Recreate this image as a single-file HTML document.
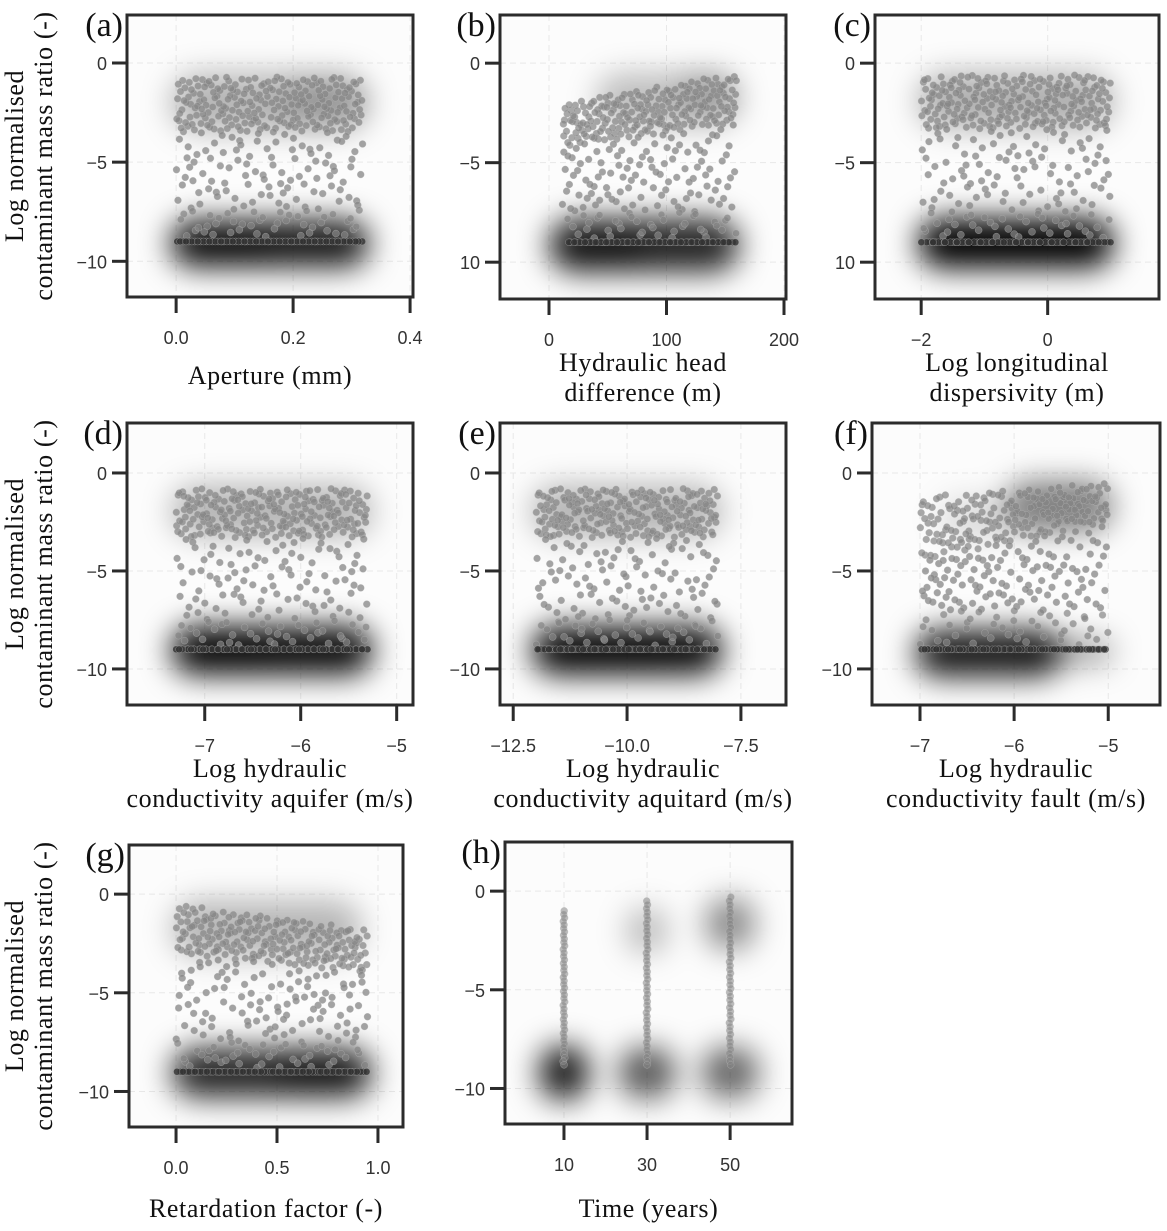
<!DOCTYPE html>
<html><head><meta charset="utf-8"><style>
html,body{margin:0;padding:0;background:#fff;}
svg text{font-family:"Liberation Serif",serif;fill:#111;}
.tk{font-family:"Liberation Sans",sans-serif;font-size:18px;fill:#333;}
.ttl{font-size:26px;letter-spacing:0.6px;}
</style></head><body>
<svg id="fig" xmlns="http://www.w3.org/2000/svg" width="1167" height="1226" viewBox="0 0 1167 1226">
<defs>
<filter id="blur" x="-50%" y="-50%" width="200%" height="200%"><feGaussianBlur stdDeviation="15"/></filter>
</defs>
</svg>
<script>
// ---- data (per panel) ----  group: [x0,x1,yTopAtX0,yBotAtX0,yTopAtX1,yBotAtX1,count,opacity,dark]
const panelA_xTicks=[0,0.2,0.4]; const panelA_xLabels=["0.0","0.2","0.4"];
const panelA_blobs=[[-0.01,0.33,-7.9,-10.3,0.9],[0,0.16,-8.5,-9.9,0.5],[-0.01,0.33,-0.5,-3.5,0.28],[0.18,0.32,-1,-2.8,0.2]];
const panelA_groups=[[0,0.32,-0.7,-3.5,-0.7,-3.5,230,0.45,0],[0,0.32,-3.5,-7.4,-3.5,-7.4,100,0.5,0],[0,0.32,-7.4,-8.8,-7.4,-8.8,45,0.45,0],[0,0.32,-9,-9,-9,-9,70,0.55,1]];

const panelB_xTicks=[0,100,200]; const panelB_xLabels=["0","100","200"];
const panelB_blobs=[[0,162,-7.8,-10.5,0.85],[0,80,-8.4,-10.1,0.5],[40,162,-0.5,-3.2,0.25],[110,160,-0.5,-2.5,0.2]];
const panelB_groups=[[12,160,-2,-4.2,-0.5,-3,220,0.45,0],[10,160,-4.2,-7.5,-3,-7.5,110,0.5,0],[15,160,-7.5,-8.8,-7.5,-8.8,40,0.45,0],[15,160,-9,-9,-9,-9,70,0.55,1]];

const panelC_xTicks=[-2,0]; const panelC_xLabels=["−2","0"];
const panelC_blobs=[[-2.05,1.05,-7.8,-10.3,1],[-1.6,0.6,-8.5,-9.8,0.5],[-2.05,1.05,-0.5,-3.3,0.3]];
const panelC_groups=[[-2,1,-0.6,-3.3,-0.6,-3.3,240,0.45,0],[-2,1,-3.3,-7.5,-3.3,-7.5,100,0.5,0],[-2,1,-7.5,-8.8,-7.5,-8.8,40,0.45,0],[-2,1,-9,-9,-9,-9,70,0.55,1]];

const panelD_xTicks=[-7,-6,-5]; const panelD_xLabels=["−7","−6","−5"];
const panelD_blobs=[[-7.35,-5.25,-7.8,-10.3,0.95],[-7.2,-6.3,-8.5,-9.8,0.45],[-7.35,-5.25,-0.6,-3.3,0.28]];
const panelD_groups=[[-7.3,-5.3,-0.8,-3.3,-0.8,-3.3,230,0.45,0],[-7.3,-5.3,-3.3,-7.5,-3.3,-7.5,100,0.5,0],[-7.3,-5.3,-7.5,-8.8,-7.5,-8.8,40,0.45,0],[-7.3,-5.3,-9,-9,-9,-9,70,0.55,1]];

const panelE_xTicks=[-12.5,-10,-7.5]; const panelE_xLabels=["−12.5","−10.0","−7.5"];
const panelE_blobs=[[-12.1,-7.9,-7.8,-10.3,0.95],[-11.5,-9,-8.5,-9.8,0.45],[-12.1,-7.9,-0.6,-3.3,0.28]];
const panelE_groups=[[-12,-8,-0.8,-3.3,-0.8,-3.3,230,0.45,0],[-12,-8,-3.3,-7.5,-3.3,-7.5,100,0.5,0],[-12,-8,-7.5,-8.8,-7.5,-8.8,40,0.45,0],[-12,-8,-9,-9,-9,-9,70,0.55,1]];

const panelF_xTicks=[-7,-6,-5]; const panelF_xLabels=["−7","−6","−5"];
const panelF_blobs=[[-7.05,-5.5,-8,-10.4,0.9],[-5.9,-4.95,-8.4,-9.8,0.35],[-6.1,-4.95,-0.4,-3,0.5],[-6.8,-6,-1.2,-3.5,0.12]];
const panelF_groups=[[-7,-5,-1.2,-4.5,-0.5,-2.5,200,0.45,0],[-7,-5,-4.5,-7,-2.5,-7,120,0.5,0],[-7,-5,-7,-8.8,-7,-8.8,45,0.45,0],[-7,-5,-9,-9,-9,-9,70,0.5,1]];

const panelG_xTicks=[0,0.5,1.0]; const panelG_xLabels=["0.0","0.5","1.0"];
const panelG_blobs=[[-0.02,0.97,-7.8,-10.3,0.85],[0.5,0.95,-8.3,-9.9,0.45],[-0.02,0.92,-0.3,-3.2,0.28]];
const panelG_groups=[[0,0.95,-0.5,-3,-1.8,-4,220,0.45,0],[0,0.95,-3,-7.5,-4,-7.5,110,0.5,0],[0,0.95,-7.5,-8.8,-7.5,-8.8,45,0.45,0],[0,0.95,-9,-9,-9,-9,70,0.55,1]];

const panelH_xTicks=[10,30,50]; const panelH_xLabels=["10","30","50"];
const panelH_blobs=[[4,16,-7.8,-10.6,0.9],[23,37,-7.9,-10.5,0.65],[43,57,-7.9,-10.5,0.6],[25,35,-0.8,-3.2,0.25],[44,56,-0.3,-3,0.45]];
const panelH_groups=[[9.8,10.2,-1,-8.8,9.8,10.2,45,0.3,0],[29.8,30.2,-0.5,-8.8,29.8,30.2,45,0.3,0],[49.8,50.2,-0.3,-8.8,49.8,50.2,45,0.3,0]];

const yTicks=[0,-5,-10];
const yLabels=["0","−5","−10"];

// ---- layout ----
const panels=[
 {id:'a',box:[127,15,286,282],xd:[-0.084,0.405],yd:[-11.8,2.42],xT:panelA_xTicks,xL:panelA_xLabels,bl:panelA_blobs,gr:panelA_groups,lab:["Aperture (mm)"],ylab:true,yL:["0","−5","−10"]},
 {id:'b',box:[500,15,286,284],xd:[-41.7,201.7],yd:[-11.85,2.42],xT:panelB_xTicks,xL:panelB_xLabels,bl:panelB_blobs,gr:panelB_groups,lab:["Hydraulic head","difference (m)"],yL:["0","−5","10"]},
 {id:'c',box:[875,15,284,284],xd:[-2.73,1.76],yd:[-11.85,2.42],xT:panelC_xTicks,xL:panelC_xLabels,bl:panelC_blobs,gr:panelC_groups,lab:["Log longitudinal","dispersivity (m)"],yL:["0","−5","10"]},
 {id:'d',box:[127,423,286,282],xd:[-7.81,-4.83],yd:[-11.84,2.55],xT:panelD_xTicks,xL:panelD_xLabels,bl:panelD_blobs,gr:panelD_groups,lab:["Log hydraulic","conductivity aquifer (m/s)"],ylab:true,yL:yLabels},
 {id:'e',box:[500,423,286,282],xd:[-12.79,-6.51],yd:[-11.84,2.55],xT:panelE_xTicks,xL:panelE_xLabels,bl:panelE_blobs,gr:panelE_groups,lab:["Log hydraulic","conductivity aquitard (m/s)"],yL:yLabels},
 {id:'f',box:[872,423,288,282],xd:[-7.51,-4.45],yd:[-11.84,2.55],xT:panelF_xTicks,xL:panelF_xLabels,bl:panelF_blobs,gr:panelF_groups,lab:["Log hydraulic","conductivity fault (m/s)"],yL:yLabels},
 {id:'g',box:[129,845,274,282],xd:[-0.233,1.124],yd:[-11.8,2.49],xT:panelG_xTicks,xL:panelG_xLabels,bl:panelG_blobs,gr:panelG_groups,lab:["Retardation factor (-)"],ylab:true,yL:yLabels,labY:1208},
 {id:'h',box:[505,842,287,282],xd:[-4.2,64.9],yd:[-11.8,2.49],xT:panelH_xTicks,xL:panelH_xLabels,bl:panelH_blobs,gr:panelH_groups,lab:["Time (years)"],yL:yLabels,labY:1208}
];
const NS="http://www.w3.org/2000/svg";
const svg=document.getElementById('fig');
function mk(tag,attrs,parent){const e=document.createElementNS(NS,tag);for(const k in attrs)e.setAttribute(k,attrs[k]);(parent||svg).appendChild(e);return e;}
function halton(i,b){let f=1,r=0;while(i>0){f/=b;r+=f*(i%b);i=Math.floor(i/b);}return r;}

panels.forEach((p,pi)=>{
 const [bx,by,bw,bh]=p.box;
 const sx=v=>bx+(v-p.xd[0])/(p.xd[1]-p.xd[0])*bw;
 const sy=v=>by+bh-(v-p.yd[0])/(p.yd[1]-p.yd[0])*bh;
 const g=mk('g',{});
 
 
 const cp=mk('clipPath',{id:'cp'+p.id},svg.querySelector('defs'));
 mk('rect',{x:bx,y:by,width:bw,height:bh},cp);
 const plot=mk('g',{'clip-path':'url(#cp'+p.id+')'},g);
 mk('rect',{x:bx,y:by,width:bw,height:bh,fill:'#fcfcfc'},plot);
 yTicks.forEach(t=>{const l=mk('line',{x1:bx,x2:bx+bw,y1:sy(t),y2:sy(t),stroke:'#e8e8e8','stroke-width':1,'stroke-dasharray':'6,4'},plot);
  });
 p.xT.forEach(t=>{const l=mk('line',{x1:sx(t),x2:sx(t),y1:by,y2:by+bh,stroke:'#e8e8e8','stroke-width':1,'stroke-dasharray':'6,4'},plot);
  });
 const dg=mk('g',{filter:'url(#blur)'},plot);
 
 
 p.bl.forEach(b=>{
  const x0=sx(b[0]),x1=sx(b[1]),y0=sy(b[2]),y1=sy(b[3]);
  const w=Math.max(4,x1-x0),h=Math.max(4,y1-y0);
  const r=mk('rect',{x:x0,y:y0,width:w,height:h,rx:Math.min(w,h)/2,fill:'#000','fill-opacity':b[4]},dg);
  
  
 });
 let idx=1+pi*37;
 p.gr.forEach(gp=>{
  const [x0,x1,a0,a1,c0,c1,n,op,dark]=gp;
  const vertical=(p.id==='h');
  for(let i=0;i<n;i++){
   idx++;
   const u=halton(idx,2),v=halton(idx,3);
   let xv,yv;
   if(vertical){xv=x0+(x1-x0)*u;yv=a0+(a1-a0)*(i/(n-1));}
   else{xv=x0+(x1-x0)*u;const top=a0+(c0-a0)*u,bot=a1+(c1-a1)*u;yv=top+(bot-top)*v;}
   const c=mk('circle',{cx:sx(xv),cy:sy(yv),r:3.5,fill:dark?'#333':'#858585','fill-opacity':op+0.25,stroke:'#bbb','stroke-width':0.5,'stroke-opacity':0.6},plot);
   
   
  }
 });
 const fr=mk('rect',{x:bx,y:by,width:bw,height:bh,fill:'none',stroke:'#2b2b2b','stroke-width':3},g);
 
 
 yTicks.forEach((t,i)=>{
  const l=mk('line',{x1:bx-15,x2:bx-1,y1:sy(t),y2:sy(t),stroke:'#2b2b2b','stroke-width':3},g);
  
  const tx=mk('text',{x:bx-20,y:sy(t)+7,'text-anchor':'end',class:'tk'},g);
  tx.textContent=p.yL[i];
  
 });
 p.xT.forEach((t,i)=>{
  const l=mk('line',{x1:sx(t),x2:sx(t),y1:by+bh+1,y2:by+bh+16,stroke:'#2b2b2b','stroke-width':3},g);
  
  const tx=mk('text',{x:sx(t),y:by+bh+47,'text-anchor':'middle',class:'tk'},g);
  tx.textContent=p.xL[i];
  
 });
 const cx=bx+bw/2;
 if(p.lab.length===1){
  const t=mk('text',{x:cx,y:(p.labY||by+bh+78)+9,'text-anchor':'middle',class:'ttl'},g);
  t.textContent=p.lab[0];
  
 } else {
  p.lab.forEach((s,i)=>{
   const t=mk('text',{x:cx,y:by+bh+72+i*30,'text-anchor':'middle',class:'ttl'},g);
   t.textContent=s;
   
  });
 }
 const pl=mk('text',{x:bx-4,y:by+21,'text-anchor':'end','font-size':34},g);
 pl.textContent='('+p.id+')';
 
 if(p.ylab){
  const cy=by+bh/2;
  ["Log normalised","contaminant mass ratio (-)"].forEach((s,i)=>{
   const t=mk('text',{x:0,y:0,'text-anchor':'middle',class:'ttl',transform:`translate(${23+i*29},${cy}) rotate(-90)`},g);
   t.textContent=s;
   
  });
 }
});
</script>
</body></html>
